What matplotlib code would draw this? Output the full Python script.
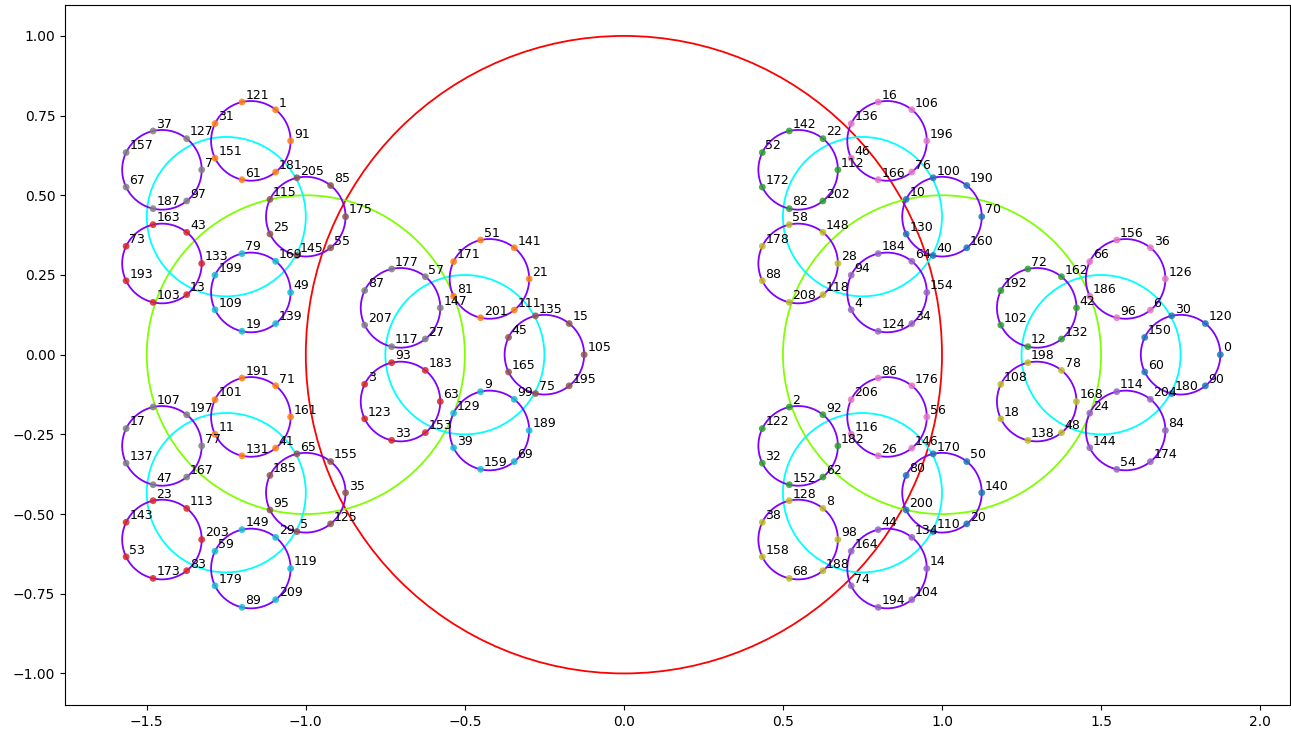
import numpy as np
import matplotlib
matplotlib.use("Agg")
import matplotlib.pyplot as plt
from matplotlib.patches import Circle

# Construction values
moduli = [2, 3, 5, 7]              # number of children at each level
level_radii = [1.0, 0.5, 0.25, 0.125]   # circle radius at each level
circle_colors = ["red", "#7fff00", "cyan", "#7f00ff"]
labels = list(range(210))          # point labels 0..209
point_colors = [f"C{i}" for i in range(10)]  # colour = label mod 10

fig = plt.figure(figsize=(12.91, 7.36), dpi=100)
ax = fig.add_axes([65 / 1291, 31 / 736, 1225 / 1291, 700 / 736])


def centers(n):
    """Return the centres at each level for label n (CRT style)."""
    c = np.array([0.0, 0.0])
    out = [c.copy()]
    for lvl, m in enumerate(moduli):
        ang = 2 * np.pi * (n % m) / m
        c = c + level_radii[lvl] * np.array([np.cos(ang), np.sin(ang)])
        out.append(c.copy())
    return out


# draw circles per level (unique centres)
drawn = set()
for n in labels:
    cs = centers(n)
    for lvl in range(len(moduli)):
        key = (lvl, round(cs[lvl][0], 6), round(cs[lvl][1], 6))
        if key in drawn:
            continue
        drawn.add(key)
        ax.add_patch(Circle(tuple(cs[lvl]), level_radii[lvl], fill=False,
                            edgecolor=circle_colors[lvl], lw=1.3, zorder=1))

# points
xs, ys, cols = [], [], []
for n in labels:
    p = centers(n)[-1]
    xs.append(p[0]); ys.append(p[1]); cols.append(point_colors[n % 10])
ax.scatter(xs, ys, s=24, c=cols, alpha=0.85, zorder=2, linewidths=0)
for n, x, y in zip(labels, xs, ys):
    ax.text(x + 0.01, y + 0.01, str(n), fontsize=9, zorder=3)

ax.set_xlim(-1.757, 2.094)
ax.set_ylim(-1.099, 1.097)
ax.set_xticks([-1.5, -1.0, -0.5, 0.0, 0.5, 1.0, 1.5, 2.0])
ax.set_yticks([-1.0, -0.75, -0.5, -0.25, 0.0, 0.25, 0.5, 0.75, 1.0])
ax.set_yticklabels(["−1.00", "−0.75", "−0.50", "−0.25", "0.00", "0.25", "0.50", "0.75", "1.00"])

fig.savefig("out.png", dpi=100)
